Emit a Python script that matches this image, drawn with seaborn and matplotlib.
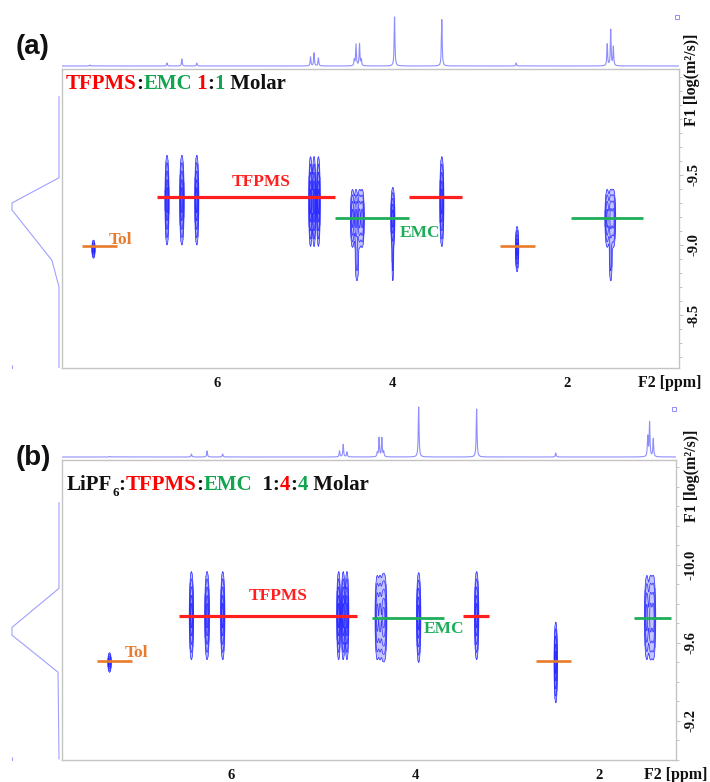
import numpy as np
import pandas as pd
import matplotlib
matplotlib.use("Agg")
import matplotlib.pyplot as plt
from matplotlib.ticker import MultipleLocator
import seaborn as sns

sns.set_theme(style="white")
plt.rcParams['font.family'] = ['Liberation Serif', 'DejaVu Serif']

# ------------------------------------------------------------------ data
# panel (a) TFPMS:EMC 1:1
a_xlim = (7.77, 0.72)
a_ylim = (-8.121, -10.257)
a_yticks = [-9.5, -9.0, -8.5]
a_yticklabels = ["-9.5", "-9.0", "-8.5"]
# 1D 1H spectrum on top (ppm, relative height)
a_spec_ppm = [7.45, 6.57, 6.40, 6.23, 4.93, 4.89, 4.84, 4.43, 4.41, 4.37, 4.35,
              3.97, 3.43, 2.58, 1.54, 1.50, 1.47]
a_spec_int = [2, 6, 14, 6, 18, 26, 16, 12, 44, 44, 12, 100, 94, 6, 44, 72, 38]
# F1 projection on the left (logD, relative intensity)
a_proj_logd = [-10.06, -9.48, -9.30, -9.25, -8.89, -8.70, -8.11]
a_proj_int = [0, 0, 100, 100, 15, 0, 0]
# 2D DOSY peaks
a_pk_ppm = [6.57, 6.40, 6.23, 4.93, 4.89, 4.84, 3.43,
            4.45, 4.41, 4.37, 4.34, 3.99, 1.54, 1.50, 1.47,
            4.40, 3.99, 1.50,
            7.41, 2.57]
a_pk_logd = [-9.32, -9.32, -9.32, -9.31, -9.31, -9.31, -9.31,
             -9.19, -9.19, -9.19, -9.19, -9.19, -9.19, -9.19, -9.19,
             -8.90, -8.90, -8.90,
             -8.97, -8.97]
a_pk_sy = [0.135] * 7 + [0.093] * 8 + [0.10] * 3 + [0.027, 0.068]
a_pk_sx = [0.010, 0.011, 0.010, 0.009, 0.009, 0.009, 0.010,
           0.011, 0.011, 0.011, 0.011, 0.010, 0.012, 0.012, 0.012,
           0.012, 0.006, 0.010,
           0.008, 0.008]
a_pk_amp = [1, 1, 1, 1, 1, 1, 1, .7, .7, .7, .7, 1, .7, .7, .7, .2, .2, .2, 1, 1]
# assignment bars (start ppm, end ppm, logD)
a_tfpms = ([6.69, 3.80], [4.65, 3.20], -9.34)
a_emc = ([4.65, 1.95], [3.81, 1.13], -9.19)
a_tol = ([7.54, 2.77], [7.14, 2.37], -8.99)
a_labels = [("TFPMS", 5.50, -9.42, "red"), ("EMC", 3.68, -9.06, "green"),
            ("Tol", 7.10, -9.01, "orange")]

# panel (b) LiPF6:TFPMS:EMC 1:4:4
b_xlim = (7.837, 1.163)
b_ylim = (-9.0, -10.538)
b_yticks = [-10.0, -9.6, -9.2]
b_yticklabels = ["-10.0", "-9.6", "-9.2"]
b_spec_ppm = [7.32, 6.43, 6.26, 6.09, 4.82, 4.78, 4.74, 4.41, 4.39, 4.36, 4.34,
              3.96, 3.33, 2.47, 1.47, 1.45, 1.41]
b_spec_int = [1.5, 6, 12, 6, 12, 25, 10, 8, 38, 38, 10, 100, 96, 8, 40, 68, 36]
b_proj_logd = [-10.32, -9.88, -9.68, -9.64, -9.45, -9.005]
b_proj_int = [0, 0, 100, 100, 2, 0]
b_pk_ppm = [6.43, 6.26, 6.09, 4.83, 4.78, 4.74, 3.33,
            4.41, 4.38, 4.35, 4.33, 3.96, 1.48, 1.44, 1.41,
            7.32, 2.47]
b_pk_logd = [-9.74] * 7 + [-9.73] * 8 + [-9.50, -9.50]
b_pk_sy = [0.095] * 7 + [0.097] * 8 + [0.021, 0.087]
b_pk_sx = [0.010, 0.011, 0.010, 0.009, 0.009, 0.009, 0.010,
           0.011, 0.011, 0.011, 0.011, 0.010, 0.012, 0.012, 0.012,
           0.008, 0.008]
b_pk_amp = [1, 1, 1, 1, 1, 1, 1, .7, .7, .7, .7, 1, .7, .7, .7, 1, 1]
b_tfpms = ([6.57, 3.48], [4.63, 3.20], -9.74)
b_emc = ([4.47, 1.62], [3.68, 1.22], -9.73)
b_tol = ([7.46, 2.68], [7.08, 2.30], -9.51)
b_labels = [("TFPMS", 5.49, -9.82, "red"), ("EMC", 3.68, -9.65, "green"),
            ("Tol", 7.03, -9.53, "orange")]

# ------------------------------------------------------------------ style
W, H = 710, 782
COL = {"red": "#FF1F1F", "green": "#1DAE5A", "orange": "#E97B2A"}
TXT = {"red": "#FF0000", "green": "#12A550", "black": "#111111"}
SPEC = "#8E8EFF"
PROJ = "#A0A0FF"
BLOB = "#1A1AFF"
BLOB_FILL = "#7C7CFF"
SPINE = "#C4C4C4"

fig = plt.figure(figsize=(W / 100, H / 100), dpi=100)


def rect(l, t, r, b):
    return [l / W, 1 - b / H, (r - l) / W, (b - t) / H]


def lorentz_spectrum(ppm_lo, ppm_hi, centers, heights, hw=0.005):
    x = np.linspace(ppm_lo, ppm_hi, 5000)
    y = np.zeros_like(x)
    for c, h in zip(centers, heights):
        y += h * hw ** 2 / ((x - c) ** 2 + hw ** 2)
    return pd.DataFrame({"ppm": x, "I": y})


def panel(main_r, spec_r, proj_r, xlim, ylim, yticks, yticklabels,
          spec_ppm, spec_int, spec_ylim, proj_logd, proj_int,
          pk_ppm, pk_logd, pk_sy, pk_sx, pk_amp, bars, labels, marks):
    ax = fig.add_axes(rect(*main_r))
    axs = fig.add_axes(rect(*spec_r), sharex=ax)
    axp = fig.add_axes(rect(*proj_r), sharey=ax)

    # 2D contours
    gx = np.linspace(min(xlim), max(xlim), 3600)
    gy = np.linspace(min(ylim), max(ylim), 500)
    X, Y = np.meshgrid(gx, gy)
    Z = np.zeros_like(X)
    for p, d, sy, sx, a in zip(pk_ppm, pk_logd, pk_sy, pk_sx, pk_amp):
        Z += a * np.exp(-0.5 * ((X - p) / sx) ** 2 - 0.5 * ((Y - d) / sy) ** 2)
    ax.contourf(X, Y, Z, levels=[0.06, 100], colors=[BLOB_FILL], alpha=0.45)
    ax.contour(X, Y, Z, levels=[0.06, 0.14, 0.3, 0.55, 0.8],
               colors=BLOB, linewidths=0.55, alpha=0.8)

    # assignment bars
    names = ["red", "green", "orange"]
    lws = [2.3, 2.0, 1.9]
    for (starts, ends, yv), c, lw in zip(bars, names, lws):
        ax.hlines([yv] * len(starts), starts, ends, colors=COL[c], lw=lw, zorder=5)
    for s, xv, yv, c in labels:
        ax.text(xv, yv, s, color=COL[c], fontsize=12.5, fontweight="bold",
                ha="center", va="baseline", zorder=6)

    ax.set_xlim(*xlim)
    ax.set_ylim(*ylim)
    ax.yaxis.tick_right()
    ax.set_yticks(yticks)
    ax.set_yticklabels(yticklabels)
    ax.yaxis.set_minor_locator(MultipleLocator(0.1))
    ax.set_xticks([6, 4, 2])
    ax.set_xticklabels(["6", "4", "2"])
    ax.xaxis.set_minor_locator(MultipleLocator(0.2))
    ax.tick_params(axis="both", which="both", direction="out", colors=SPINE,
                   labelcolor="#111111", labelsize=10.5)
    ax.tick_params(axis="x", which="major", length=4, width=0.8, pad=2.5)
    ax.tick_params(axis="x", which="minor", length=2.5, width=0.7)
    ax.tick_params(axis="y", which="major", length=3, width=0.8, pad=3,
                   labelrotation=90, right=True, left=False)
    ax.tick_params(axis="y", which="minor", length=2, width=0.7, right=True, left=False)
    for lab in ax.get_yticklabels():
        lab.set_fontweight("bold")
        lab.set_va("center")
    for lab in ax.get_xticklabels():
        lab.set_fontweight("bold")
    for sp in ax.spines.values():
        sp.set_color(SPINE)
        sp.set_linewidth(1.0)
        sp.set_visible(True)
    ax.set_xlabel("")
    ax.set_ylabel("")
    ax.grid(False)

    # top 1D spectrum
    lo, hi = min(xlim), max(xlim)
    df = lorentz_spectrum(lo, hi, spec_ppm, spec_int)
    sns.lineplot(data=df, x="ppm", y="I", ax=axs, color=SPEC, lw=0.8,
                 estimator=None, sort=False)
    axs.plot([marks[0]], [marks[1]], marker="s", ms=3, mfc="none", mec=SPEC, mew=0.7)
    axs.set_ylim(*spec_ylim)
    axs.set_axis_off()

    # left projection
    dfp = pd.DataFrame({"logD": proj_logd, "I": proj_int})
    sns.lineplot(data=dfp, x="I", y="logD", ax=axp, color=PROJ, lw=0.8,
                 estimator=None, sort=False, orient="y")
    axp.plot([100], [ylim[0] - 0.005 * (ylim[0] - ylim[1])], marker="|", ms=3,
             color=PROJ, mew=0.8)
    axp.set_xlim(125.5, -6.4)
    axp.set_axis_off()
    return ax


ax_a = panel((62, 69, 679, 368), (62, 8, 679, 67), (0, 69, 62, 368),
             a_xlim, a_ylim, a_yticks, a_yticklabels,
             a_spec_ppm, a_spec_int, (-2, 116), a_proj_logd, a_proj_int,
             a_pk_ppm, a_pk_logd, a_pk_sy, a_pk_sx, a_pk_amp,
             [a_tfpms, a_emc, a_tol], a_labels, (0.74, 98))
ax_b = panel((62, 460, 676, 760), (62, 400, 676, 458), (0, 460, 62, 760),
             b_xlim, b_ylim, b_yticks, b_yticklabels,
             b_spec_ppm, b_spec_int, (-2, 114), b_proj_logd, b_proj_int,
             b_pk_ppm, b_pk_logd, b_pk_sy, b_pk_sx, b_pk_amp,
             [b_tfpms, b_emc, b_tol], b_labels, (1.18, 96))


# ------------------------------------------------------------------ texts
def chain(ax, x, y, parts, size=15):
    first = ax.text(x, y, parts[0][0], color=TXT[parts[0][1]], fontsize=size,
                    fontweight="bold", transform=ax.transAxes, va="bottom", ha="left")
    prev, base = first, first
    for s, c, sub in parts[1:]:
        if sub:
            t = ax.annotate(s, xy=(1, 0), xycoords=prev, xytext=(0, -3.0),
                            textcoords="offset points", color=TXT[c],
                            fontsize=size * 0.62, fontweight="bold",
                            va="bottom", ha="left")
        else:
            t = ax.annotate(s, xy=(1, 0), xycoords=(prev, base), color=TXT[c],
                            fontsize=size, fontweight="bold", va="bottom", ha="left")
            base = t
        prev = t


chain(ax_a, 0.006, 0.915, [("TFPMS", "red"), (":", "black", False), ("EMC", "green", False),
                           (" 1", "red", False), (":", "black", False), ("1", "green", False),
                           (" Molar", "black", False)])
chain(ax_b, 0.008, 0.885, [("LiPF", "black"), ("6", "black", True), (":", "black", False),
                           ("TFPMS", "red", False), (":", "black", False),
                           ("EMC", "green", False), ("  1:", "black", False),
                           ("4", "red", False), (":", "black", False),
                           ("4", "green", False), (" Molar", "black", False)])

for lab, yc in (("(a)", 47), ("(b)", 458)):
    fig.text(33 / W, 1 - yc / H, lab, fontsize=20, fontweight="bold",
             family=["Liberation Sans", "DejaVu Sans"], ha="center", va="center",
             color="#111111")

for ybot in (126, 522):
    fig.text(692 / W, 1 - ybot / H, "F1 [log(m\u00b2/s)]", rotation=90,
             fontsize=11.5, fontweight="bold", ha="center", va="bottom", color="#111111")
for xc, yc in ((670, 383), (676, 775)):
    fig.text(xc / W, 1 - yc / H, "F2 [ppm]", fontsize=11.5, fontweight="bold",
             ha="center", va="center", color="#111111")

fig.savefig("out.png", dpi=100, facecolor="white")
